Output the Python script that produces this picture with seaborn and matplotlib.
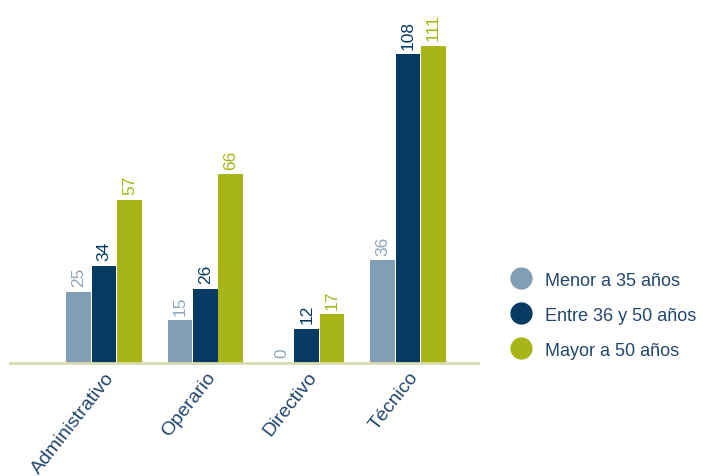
import numpy as np
import pandas as pd
import matplotlib.pyplot as plt
import seaborn as sns
from matplotlib.lines import Line2D

# datos
categorias = ['Administrativo', 'Operario', 'Directivo', 'Técnico']
grupos = ['Menor a 35 años', 'Entre 36 y 50 años', 'Mayor a 50 años']
menor_35 = [25, 15, 0, 36]
entre_36_50 = [34, 26, 12, 108]
mayor_50 = [57, 66, 17, 111]

colores = ['#809fb6', '#053a63', '#a7b516']
color_labels = ['#8fa7bb', '#053a63', '#a7b516']
color_texto = '#22466e'

sns.set_theme(style="white")
plt.rcParams['font.family'] = ['Liberation Sans', 'DejaVu Sans']

df = pd.DataFrame({
    'Categoria': categorias * 3,
    'Grupo': [grupos[0]] * 4 + [grupos[1]] * 4 + [grupos[2]] * 4,
    'Valor': menor_35 + entre_36_50 + mayor_50,
})

fig = plt.figure(figsize=(7.03, 4.77), dpi=100)
ax = fig.add_axes([0.014, 0.237, 0.666, 0.719])

sns.barplot(data=df, x='Categoria', y='Valor', hue='Grupo', order=categorias,
            hue_order=grupos, palette=colores, width=0.75, gap=0.03,
            edgecolor='none', saturation=1, legend=False, ax=ax)

for cont, c in zip(ax.containers, color_labels):
    ax.bar_label(cont, labels=[str(int(v)) for v in cont.datavalues],
                 rotation=90, padding=4, color=c, fontsize=12.5)

ax.set_xlim(-0.93, 3.69)
ax.set_ylim(0, 120)
ax.set_xlabel('')
ax.set_ylabel('')
ax.set_yticks([])
for s in ['top', 'right', 'left']:
    ax.spines[s].set_visible(False)
ax.spines['bottom'].set_color('#d9dcae')
ax.spines['bottom'].set_linewidth(2)
ax.tick_params(axis='x', length=0, pad=4)
for t in ax.get_xticklabels():
    t.set_rotation(52)
    t.set_ha('right')
    t.set_rotation_mode('anchor')
    t.set_fontsize(14)
    t.set_color(color_texto)

handles = [Line2D([0], [0], marker='o', linestyle='none', markersize=15,
                  markerfacecolor=c, markeredgecolor=c) for c in colores]
leg = fig.legend(handles, grupos, loc='center left', bbox_to_anchor=(0.692, 0.337),
                 frameon=False, fontsize=13, handletextpad=0.35, labelspacing=1.0)
for t in leg.get_texts():
    t.set_color(color_texto)

fig.savefig('out.png', dpi=100)
